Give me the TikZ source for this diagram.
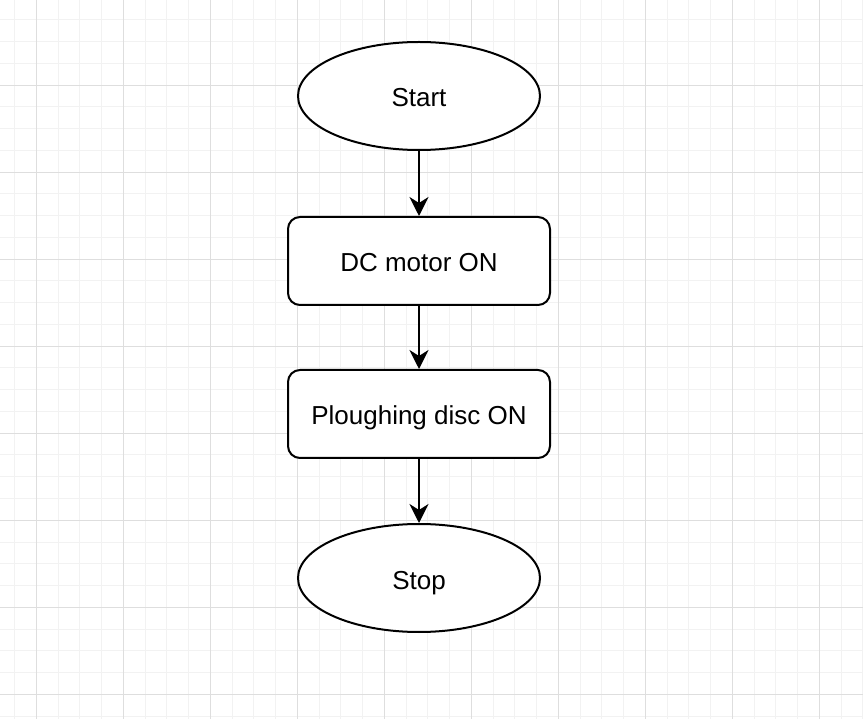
\documentclass[tikz,border=0pt]{standalone}
\usepackage{fontspec}
\setmainfont{Liberation Sans}
\usetikzlibrary{shapes.geometric,arrows.meta}
\definecolor{gridminor}{HTML}{F2F2F2}
\definecolor{gridmajor}{HTML}{DEDEDE}
\tikzset{
  terminal/.style={draw,line width=2pt,ellipse,minimum width=242pt,minimum height=108pt,inner sep=0pt,text height=22pt,text depth=0pt,font=\fontsize{26}{31}\selectfont},
  process/.style={draw,line width=2pt,rounded corners=12pt,minimum width=262pt,minimum height=88pt,inner sep=0pt,text height=22pt,text depth=0pt,font=\fontsize{26}{31}\selectfont},
  flow/.style={line width=2pt,-{Stealth[length=19pt,width=19pt,inset=6pt]}}
}
\begin{document}
\begin{tikzpicture}[x=1pt,y=-1pt]
\useasboundingbox (0,0) rectangle (863,719);
\fill[white] (0,0) rectangle (863,719);
% grid
\foreach \k in {0,...,39} {
\draw[gridminor,line width=1pt] (14.5+21.75*\k,0) -- (14.5+21.75*\k,719);
}
\foreach \k in {0,...,33} {
\draw[gridminor,line width=1pt] (0,-1.75+21.75*\k) -- (863,-1.75+21.75*\k);
}
\foreach \k in {0,...,9} {
\draw[gridmajor,line width=1pt] (36+87*\k,0) -- (36+87*\k,719);
}
\foreach \k in {0,...,7} {
\draw[gridmajor,line width=1pt] (0,85.25+87*\k) -- (863,85.25+87*\k);
}
% flowchart
\node[terminal,fill=white] (start) at (419,96) {Start};
\node[process,fill=white] (motor) at (419,261) {DC motor ON};
\node[process,fill=white] (disc) at (419,414) {Ploughing disc ON};
\node[terminal,fill=white] (stop) at (419,578) {Stop};
\draw[flow] (start) -- (motor);
\draw[flow] (motor) -- (disc);
\draw[flow] (disc) -- (stop);
\end{tikzpicture}
\end{document}
